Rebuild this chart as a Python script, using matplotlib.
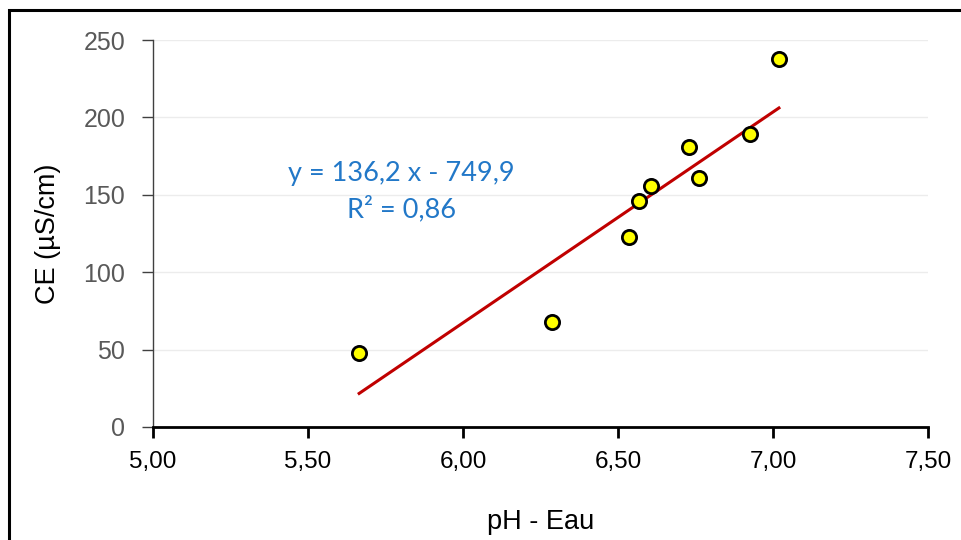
import matplotlib.pyplot as plt
from matplotlib.patches import Rectangle
import numpy as np

# Données
ph_eau = [5.665, 6.287, 6.535, 6.568, 6.606, 6.729, 6.761, 6.926, 7.019]
ce = [48, 68, 123, 146, 156, 181, 161, 189, 238]
pente = 136.2
ordonnee = -749.9
equation = "y = 136,2 x - 749,9"
r2_label = "R² = 0,86"
x_ticks = [5.0, 5.5, 6.0, 6.5, 7.0, 7.5]
x_tick_labels = ["5,00", "5,50", "6,00", "6,50", "7,00", "7,50"]
y_ticks = [0, 50, 100, 150, 200, 250]

fig = plt.figure(figsize=(9.61, 5.4), dpi=100)
ax = fig.add_axes([0.1592, 0.2093, 0.8065, 0.7166])

# cadre extérieur
fig.patches.append(Rectangle((9 / 961, -0.1), 1.2, 1.1 - 10 / 540, transform=fig.transFigure,
                             fill=False, edgecolor="black", linewidth=2.2))

ax.grid(axis="y", color="#ececec", linewidth=1)
ax.set_axisbelow(True)

ax.scatter(ph_eau, ce, s=105, facecolor="#ffff00", edgecolor="black", linewidth=2, zorder=3)

xs = np.array([min(ph_eau), max(ph_eau)])
ax.plot(xs, pente * xs + ordonnee, color="#c00000", linewidth=2.2, zorder=2)

ax.set_xlim(5.0, 7.5)
ax.set_ylim(0, 250)
ax.set_xticks(x_ticks)
ax.set_xticklabels(x_tick_labels)
ax.set_yticks(y_ticks)

for s in ["top", "right"]:
    ax.spines[s].set_visible(False)
ax.spines["left"].set_color("#404040")
ax.spines["left"].set_linewidth(1)
ax.spines["bottom"].set_color("black")
ax.spines["bottom"].set_linewidth(2)

ax.tick_params(axis="y", length=8, width=1, color="#404040", labelsize=18, labelcolor="#595959", pad=12)
ax.tick_params(axis="x", length=8, width=2, color="black", labelsize=17.5, labelcolor="black", pad=9)
for lab in ax.get_xticklabels() + ax.get_yticklabels():
    lab.set_fontfamily("Liberation Sans")

ax.set_xlabel("pH - Eau", fontsize=19.5, fontfamily="Liberation Sans", labelpad=26)
ax.set_ylabel("CE (µS/cm)", fontsize=19.5, fontfamily="Liberation Sans", labelpad=16)

ax.text(5.80, 164, equation, color="#2278c8", fontsize=19.5, fontfamily="Lato", ha="center", va="center")
ax.text(5.80, 141, r2_label, color="#2278c8", fontsize=19.5, fontfamily="Lato", ha="center", va="center")

fig.savefig("out.png", dpi=100, facecolor="white")
